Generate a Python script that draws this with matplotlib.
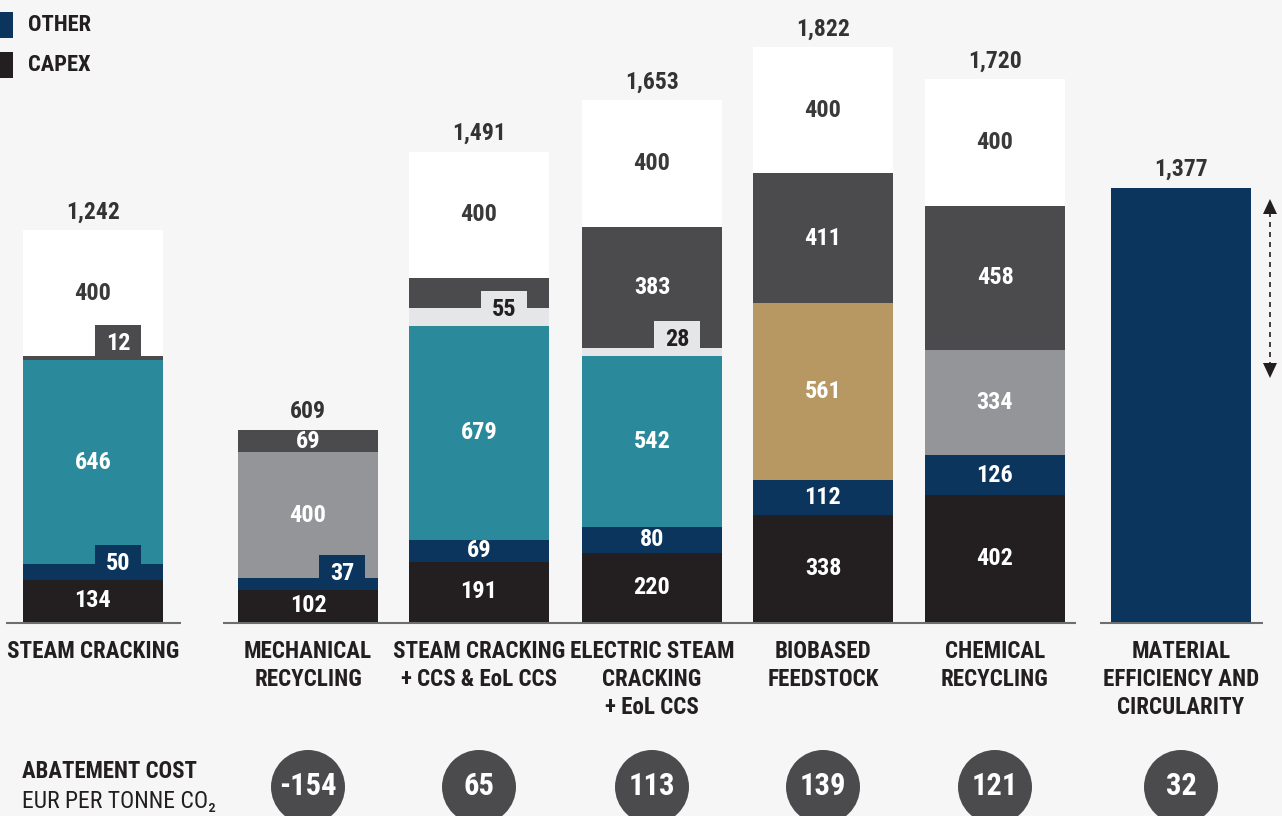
import matplotlib
matplotlib.use("Agg")
import matplotlib.pyplot as plt
from matplotlib import font_manager
from matplotlib.patches import Rectangle, Circle

# prefer a narrow sans face when one is installed
_installed = {f.name for f in font_manager.fontManager.ttflist}
_narrow = [n for n in ['Roboto Condensed', 'Liberation Sans Narrow', 'Open Sans Condensed',
                       'Noto Sans Condensed', 'DejaVu Sans Condensed'] if n in _installed]
FONT = _narrow[:1] + ['DejaVu Sans']
plt.rcParams['font.family'] = FONT
plt.rcParams['font.stretch'] = 'condensed'

# ---- data -------------------------------------------------------------
categories = ['STEAM CRACKING', 'MECHANICAL\nRECYCLING', 'STEAM CRACKING\n+ CCS & EoL CCS',
              'ELECTRIC STEAM\nCRACKING\n+ EoL CCS', 'BIOBASED\nFEEDSTOCK',
              'CHEMICAL\nRECYCLING', 'MATERIAL\nEFFICIENCY AND\nCIRCULARITY']
capex = [134, 102, 191, 220, 338, 402, 0]
other = [50, 37, 69, 80, 112, 126, 1377]
waste_feed = [0, 400, 0, 0, 0, 334, 0]
bio_feed = [0, 0, 0, 0, 561, 0, 0]
ccs = [646, 0, 679, 542, 0, 0, 0]
transport = [0, 0, 55, 28, 0, 0, 0]
energy = [12, 69, 97, 383, 411, 458, 0]
carbon = [400, 0, 400, 400, 400, 400, 0]
totals = [1242, 609, 1491, 1653, 1822, 1720, 1377]
abatement = ['-154', '65', '113', '139', '121', '32']
legend_labels = ['OTHER', 'CAPEX']

# ---- layout -----------------------------------------------------------
W, H = 1282, 816
BASE = 622            # pixel row of the baseline
SCALE = 0.3155        # pixels per EUR
centers = [93, 308, 479, 652, 823, 995, 1181]
tab_shift = [25, 34, 25, 25, 25, 25, 25]   # tab centre offset from bar centre (px)
BAR_W = 140

series = [
    (capex, '#231f20', 'white'),
    (other, '#0c355e', 'white'),
    (waste_feed, '#939598', 'white'),
    (bio_feed, '#b89862', 'white'),
    (ccs, '#2a8a9b', 'white'),
    (transport, '#e5e6e8', '#231f20'),
    (energy, '#4b4b4d', 'white'),
    (carbon, '#ffffff', '#3a3a3a'),
]
unlabelled = {(6, 2), (1, 6)}   # (series index, bar index)

BG = '#f6f6f6'
DARK = '#231f20'

fig = plt.figure(figsize=(W / 100, H / 100), dpi=100, facecolor=BG)

# bars axes: value units, baseline at pixel row BASE
bx = fig.add_axes([0, (H - BASE) / H, 1, BASE / H])
bx.set_xlim(0, W)
bx.set_ylim(0, BASE / SCALE)
bx.axis('off')
bx.patch.set_alpha(0)

# overlay axes in pixel units for annotations
ax = fig.add_axes([0, 0, 1, 1], zorder=-1)
ax.set_xlim(0, W)
ax.set_ylim(H, 0)
ax.axis('off')
ax.set_facecolor(BG)

TAB_PX = 35
tab_h = TAB_PX / SCALE
lbl_fs = 17.5

bottoms = [0] * len(centers)
for si, (vals, col, tcol) in enumerate(series):
    bx.bar(centers, vals, width=BAR_W, bottom=bottoms, color=col, linewidth=0, zorder=2)
    for bi, v in enumerate(vals):
        if v <= 0 or (si, bi) in unlabelled:
            continue
        b = bottoms[bi]
        txt = f'{v}'
        if v < 60:
            # small segment: label sits on a tab at the right side of the bar
            tx = centers[bi] + tab_shift[bi]
            bx.bar(tx, tab_h, width=46, bottom=b, color=col, linewidth=0, zorder=3)
            bx.text(tx, b + tab_h / 2 - 1 / SCALE, txt, ha='center', va='center',
                    color=tcol, fontsize=lbl_fs, fontweight='bold', zorder=4)
        else:
            bx.text(centers[bi], b + v / 2, txt, ha='center', va='center',
                    color=tcol, fontsize=lbl_fs, fontweight='bold', zorder=4)
    bottoms = [bottoms[i] + vals[i] for i in range(len(vals))]

# totals above bars
for c, t in zip(centers, totals):
    bx.text(c, t + 18 / SCALE, f'{t:,}', ha='center', va='center', color='#333333',
            fontsize=17, fontweight='bold', zorder=4)

# baseline segments
for x0, x1 in [(6, 181), (223, 1076), (1100, 1263)]:
    ax.plot([x0, x1], [BASE + 0.5, BASE + 0.5], color='#6d6e70', lw=1.5,
            solid_capstyle='butt', zorder=1)

# category labels
for c, lab in zip(centers, categories):
    for li, line in enumerate(lab.split('\n')):
        ax.text(c, 651 + 28 * li, line, ha='center', va='center', color=DARK,
                fontsize=16.6, fontweight='bold')

# range arrow beside the last bar
ax.plot([1270, 1270], [212, 366], color=DARK, lw=1.2, ls=(0, (3, 3)))
ax.add_patch(plt.Polygon([[1263, 214], [1277, 214], [1270, 199]], color=DARK, lw=0))
ax.add_patch(plt.Polygon([[1263, 363], [1277, 363], [1270, 378]], color=DARK, lw=0))

# abatement cost row
ax.text(22, 772, 'ABATEMENT COST', ha='left', va='center', color=DARK,
        fontsize=16.4, fontweight='bold')
ax.text(22, 801, 'EUR PER TONNE CO₂', ha='left', va='center', color=DARK,
        fontsize=17)
for c, a in zip(centers[1:], abatement):
    ax.add_patch(Circle((c, 787), 37, color='#4b4b4d', lw=0))
    ax.text(c, 786, a, ha='center', va='center', color='white', fontsize=22,
            fontweight='bold')

# legend
for i, lab in enumerate(legend_labels):
    y = 25 + 40 * i
    ax.add_patch(Rectangle((-1, y - 13), 14, 26, color=series[1 - i][1], lw=0))
    ax.text(28, y, lab, ha='left', va='center', color=DARK, fontsize=16.2,
            fontweight='bold')

fig.savefig('out.png', dpi=100, facecolor=BG)
